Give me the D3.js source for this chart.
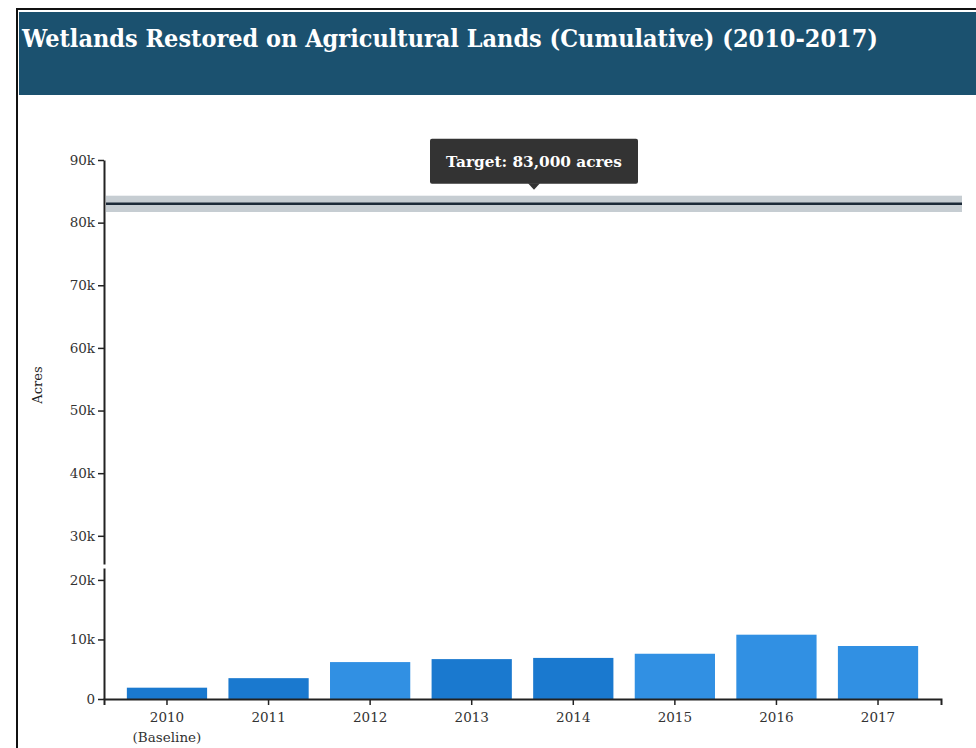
<!DOCTYPE html>
<html>
<head>
<meta charset="utf-8">
<script src="https://cdn.jsdelivr.net/npm/d3@7"></script>
<style>
  body { margin: 0; background: #fff; }
  text { font-family: "DejaVu Serif", serif; }
  .axis text { font-size: 13.5px; fill: #333; }
  .axis path, .axis line { stroke: #222; }
</style>
</head>
<body>
<script>
// Chart data
//= ================================
let years = ['2010', '2011', '2012', '2013', '2014', '2015', '2016', '2017'];
let yearNotes = ['(Baseline)', '', '', '', '', '', '', ''];
let acres = [1900, 3500, 6200, 6700, 6900, 7600, 10800, 8900];
let targetValue = 83000;
let targetBand = [81700, 84300];
let lowTicks = [0, 10000, 20000];
let highTicks = [30000, 40000, 50000, 60000, 70000, 80000, 90000];
let titleText = 'Wetlands Restored on Agricultural Lands (Cumulative) (2010-2017)';

// bar shades as they appear in the picture
let barShade = ['#1a79cf', '#1a79cf', '#3190e3', '#1a79cf', '#1a79cf', '#3190e3', '#3190e3', '#3190e3'];

let svgWidth = 976;
let svgHeight = 748;

let svg = d3.select('body')
  .append('svg')
  .attr('width', svgWidth)
  .attr('height', svgHeight);

// frame and header
svg.append('line')
  .attr('x1', 17).attr('x2', svgWidth).attr('y1', 9).attr('y2', 9)
  .attr('stroke', '#111').attr('stroke-width', 2);
svg.append('line')
  .attr('x1', 17).attr('x2', 17).attr('y1', 8).attr('y2', svgHeight)
  .attr('stroke', '#111').attr('stroke-width', 2);
svg.append('rect')
  .attr('x', 19).attr('y', 12)
  .attr('width', svgWidth - 19).attr('height', 83)
  .attr('fill', '#1b516f');

// shrink a text to a given width
function fitText(sel, w) {
  let fs = parseFloat(sel.attr('font-size'));
  let len = sel.node().getComputedTextLength();
  sel.attr('font-size', (fs * w / len).toFixed(2) + 'px');
}

let title = svg.append('text')
  .attr('x', 22).attr('y', 47)
  .attr('fill', '#fff')
  .attr('font-weight', 'bold')
  .attr('font-size', '24px')
  .style('font-family', '"DejaVu Serif Condensed", "DejaVu Serif", serif')
  .style('font-stretch', 'condensed')
  .text(titleText);
fitText(title, 856);

// Scales
// ================================
let xScale = d3.scaleBand()
  .domain(years)
  .range([104, 941])
  .paddingInner(0.21)
  .paddingOuter(0.225);

let yLow = d3.scaleLinear()
  .domain([0, 22000])
  .range([699, 568]);

let yHigh = d3.scaleLinear()
  .domain([25500, 90000])
  .range([564, 160]);

let fmt = d => d === 0 ? '0' : (d / 1000) + 'k';

// Axes
// ================================
svg.append('g')
  .attr('class', 'axis')
  .attr('transform', 'translate(104,0)')
  .call(d3.axisLeft(yLow).tickValues(lowTicks).tickFormat(fmt).tickSizeOuter(0));

svg.append('g')
  .attr('class', 'axis')
  .attr('transform', 'translate(104,0)')
  .call(d3.axisLeft(yHigh).tickValues(highTicks).tickFormat(fmt).tickSizeOuter(0));

svg.selectAll('.axis path').attr('stroke-width', 2);
svg.selectAll('.axis .tick line').attr('stroke-width', 1.5);

// bars
svg.append('g')
  .selectAll('rect')
  .data(years)
  .enter()
  .append('rect')
  .attr('x', d => xScale(d))
  .attr('y', (d, i) => yLow(acres[i]))
  .attr('width', xScale.bandwidth())
  .attr('height', (d, i) => yLow(0) - yLow(acres[i]))
  .attr('fill', (d, i) => barShade[i]);

let xAxis = svg.append('g')
  .attr('class', 'axis')
  .attr('transform', `translate(0, ${yLow(0)})`)
  .call(d3.axisBottom(xScale).tickSizeOuter(6).tickPadding(7));
xAxis.select('path').attr('stroke-width', 2);
xAxis.selectAll('.tick line').attr('stroke-width', 1.5);
xAxis.selectAll('.tick text').each(function(d, i) {
  if (yearNotes[i]) {
    d3.select(this).append('tspan')
      .attr('x', 0).attr('dy', '1.5em')
      .text(yearNotes[i]);
  }
});

// y label
svg.append('text')
  .attr('transform', 'translate(42,385) rotate(-90)')
  .attr('text-anchor', 'middle')
  .attr('font-size', '13px')
  .attr('fill', '#222')
  .text('Acres');

// target band and line
svg.append('rect')
  .attr('x', 106)
  .attr('y', yHigh(targetBand[1]))
  .attr('width', 962 - 106)
  .attr('height', yHigh(targetBand[0]) - yHigh(targetBand[1]))
  .attr('fill', '#c6cdd2');
svg.append('line')
  .attr('x1', 106).attr('x2', 962)
  .attr('y1', yHigh(targetValue)).attr('y2', yHigh(targetValue))
  .attr('stroke', '#1c2a38')
  .attr('stroke-width', 2.5);

// tooltip
let tipX = 534;
let tipY = yHigh(targetValue) - 14;
svg.append('rect')
  .attr('x', tipX - 104).attr('y', tipY - 51)
  .attr('width', 208).attr('height', 45)
  .attr('rx', 2)
  .attr('fill', '#333');
svg.append('path')
  .attr('d', `M${tipX - 6},${tipY - 6.5}L${tipX + 6},${tipY - 6.5}L${tipX},${tipY}Z`)
  .attr('fill', '#333');
let tipText = svg.append('text')
  .attr('x', tipX).attr('y', tipY - 23)
  .attr('text-anchor', 'middle')
  .attr('fill', '#fff')
  .attr('font-weight', 'bold')
  .attr('font-size', '16px')
  .text('Target: ' + d3.format(',')(targetValue) + ' acres');
fitText(tipText, 176);
</script>
</body>
</html>
